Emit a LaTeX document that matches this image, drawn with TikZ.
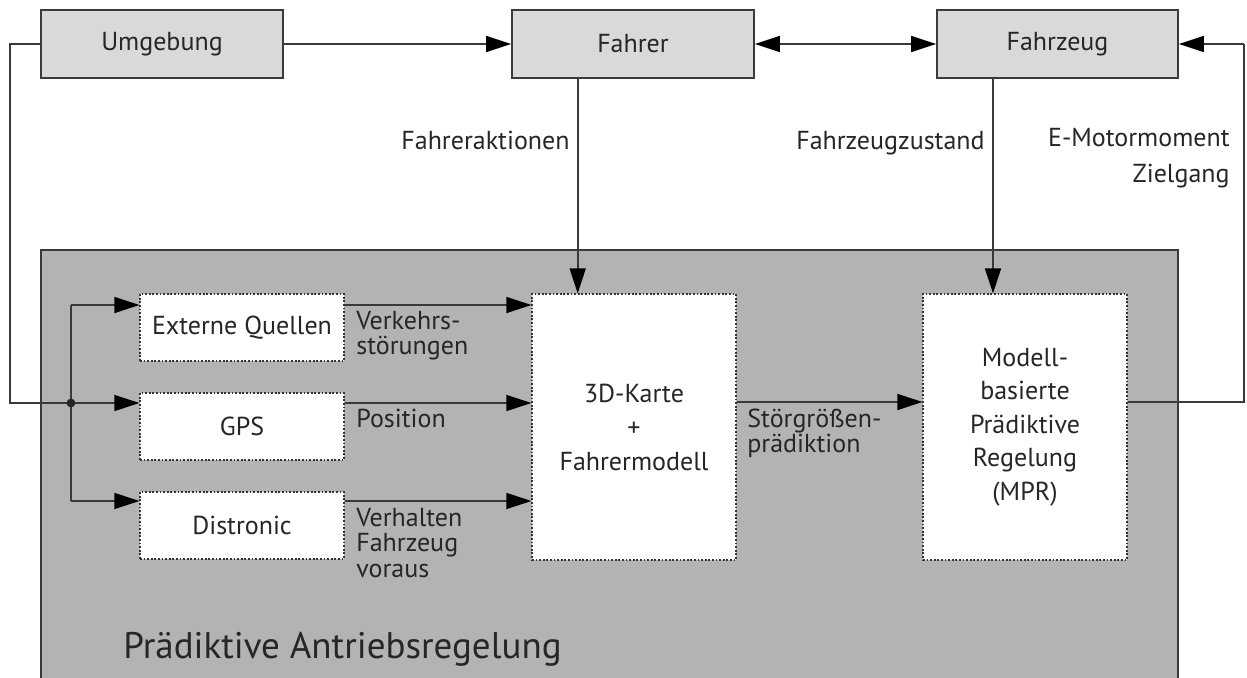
\documentclass[tikz,border=0pt]{standalone}
\usepackage{fontspec}
\setmainfont{PT Sans}
\usetikzlibrary{arrows.meta}
\definecolor{linec}{HTML}{3A3A3A}
\definecolor{boxfill}{HTML}{D9D9D9}
\definecolor{regfill}{HTML}{B3B3B3}
\tikzset{
  every node/.style={font=\fontsize{13}{13}\selectfont, text=black!85},
  topbox/.style={draw=linec, line width=0.9pt, fill=boxfill, minimum width=120pt, minimum height=34pt, inner sep=0pt},
  inbox/.style={draw=black!80, line width=0.6pt, dash pattern=on 0.9pt off 0.9pt, fill=white, minimum width=102pt, inner sep=0pt},
  conn/.style={draw=linec, line width=0.8pt},
  arr/.style={conn, -{Triangle[length=12.5pt,width=8pt,black]}},
  darr/.style={conn, {Triangle[length=12.5pt,width=8pt,black]}-{Triangle[length=12.5pt,width=8pt,black]}},
  lbl/.style={inner sep=0pt, align=left},
}
\begin{document}
\begin{tikzpicture}[x=0.5pt, y=-0.5pt]
\useasboundingbox (0,0) rectangle (1247,678);
% region
\fill[regfill] (41,250) rectangle (1178,690);
\draw[linec, line width=0.9pt] (41,690) -- (41,250) -- (1178,250) -- (1178,690);
\node[lbl, font=\fontsize{18.5}{18.5}\selectfont, anchor=base west] (title) at (123,658) {Prädiktive Antriebsregelung};
% top boxes
\node[topbox, minimum width=121pt] (umg) at (162,44) {Umgebung};
\node[topbox, minimum width=121pt] (fahrer) at (633,44) {Fahrer};
\node[topbox, minimum width=120.5pt] (fzg) at (1057.5,44) {Fahrzeug};
% inner boxes
\node[inbox, minimum height=33.5pt] (ext) at (242,327.5) {Externe Quellen};
\node[inbox, minimum height=33.5pt] (gps) at (242,426.5) {GPS};
\node[inbox, minimum height=33.5pt] (dis) at (242,525.5) {Distronic};
\node[inbox, minimum height=133pt, align=center, font=\fontsize{13}{17}\selectfont] (karte) at (634,427) {3D-Karte\\+\\Fahrermodell};
\node[inbox, minimum height=133pt, align=center, font=\fontsize{13}{16.75}\selectfont] (mpr) at (1025,427) {Modell-\\basierte\\Prädiktive\\Regelung\\(MPR)};
% coordinates
\coordinate (jn) at (71,403);
\coordinate (lt) at (10,44);
\coordinate (lb) at (10,403);
\coordinate (jt) at (71,305);
\coordinate (jb) at (71,501);
\coordinate (rb) at (1244,402);
\coordinate (rt) at (1244,44);
% connectors
\draw[arr] (umg.east) -- (fahrer.west);
\draw[darr] (fahrer.east) -- (fzg.west);
\draw[conn] (umg.west) -- (lt) -- (lb) -- (jn);
\draw[arr] (jn) -- (gps.west |- jn);
\draw[conn] (jt) -- (jb);
\draw[arr] (jt) -- (ext.west |- jt);
\draw[arr] (jb) -- (dis.west |- jb);
\fill[black!85] (jn) circle (2.2pt);
\draw[arr] (ext.east |- jt) -- (karte.west |- jt);
\draw[arr] (gps.east |- jn) -- (karte.west |- jn);
\draw[arr] (dis.east |- jb) -- (karte.west |- jb);
\draw[arr] (karte.east |- 0,402) -- (mpr.west |- 0,402);
\draw[arr] (577.7,78) coordinate (fa) -- (fa |- karte.north);
\draw[arr] (993,78) coordinate (fz) -- (fz |- mpr.north);
\draw[conn] (mpr.east |- rb) -- (rb) -- (rt);
\draw[arr] (rt) -- (fzg.east);
% labels (base anchor of a multi-line node = last line)
\node[lbl, anchor=base east] (l1) at (570,150) {Fahreraktionen};
\node[lbl, anchor=base east] (l2) at (985,150) {Fahrzeugzustand};
\node[lbl, anchor=base east, align=right, font=\fontsize{13}{18}\selectfont] (l3) at (1230,183) {E-Motormoment\\Zielgang};
\node[lbl, anchor=base west, font=\fontsize{13}{12.5}\selectfont] (l4) at (356,355) {Verkehrs-\\störungen};
\node[lbl, anchor=base west] (l5) at (356,428) {Position};
\node[lbl, anchor=base west, font=\fontsize{13}{12.75}\selectfont] (l6) at (356,577) {Verhalten\\Fahrzeug\\voraus};
\node[lbl, anchor=base west, font=\fontsize{13}{12.5}\selectfont] (l7) at (747,452) {Störgrößen-\\prädiktion};
\end{tikzpicture}
\end{document}
